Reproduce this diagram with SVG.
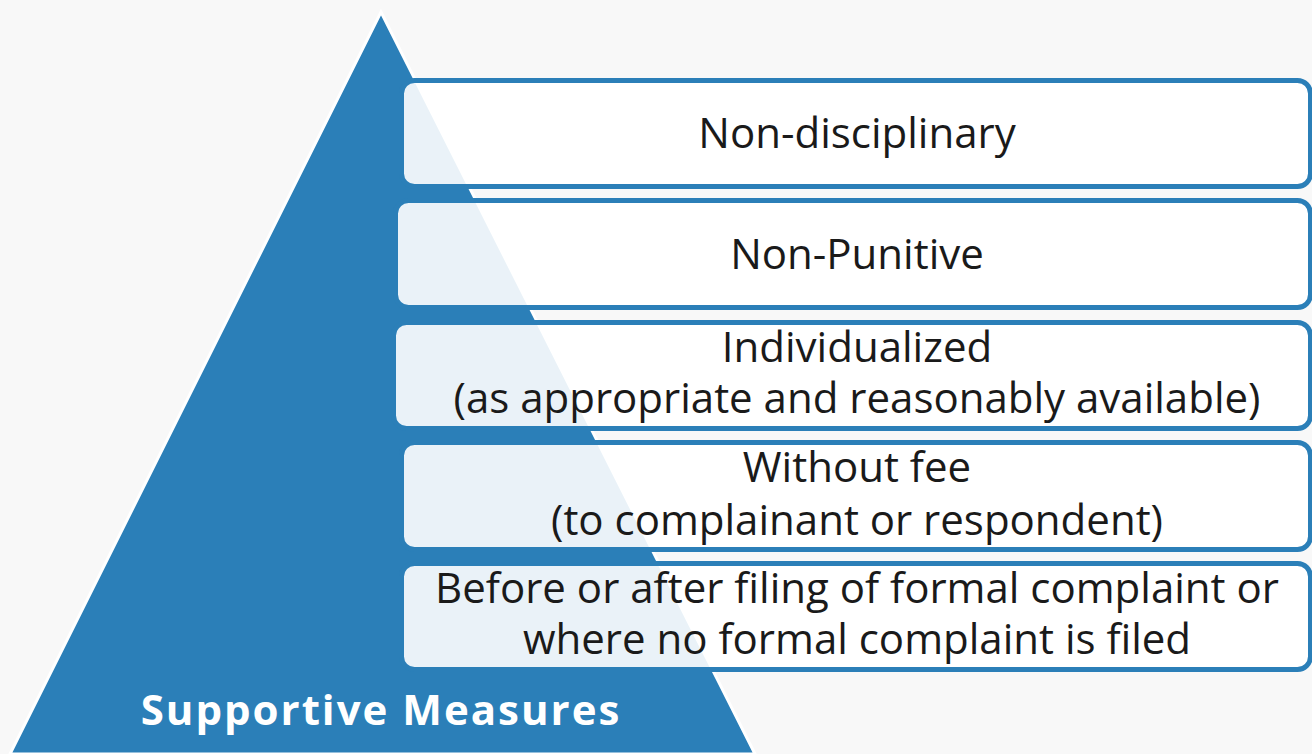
<svg xmlns="http://www.w3.org/2000/svg" width="1312" height="754" viewBox="0 0 1312 754">
  <style>
    .box { fill: #ffffff; fill-opacity: 0.9; stroke: #2b7fb8; stroke-width: 5; }
    .t { font-family: "Open Sans", "Liberation Sans", sans-serif; font-size: 42px; fill: #1a1a1a; text-anchor: middle; }
    .title { font-family: "Open Sans", "Liberation Sans", sans-serif; font-size: 42px; font-weight: bold; fill: #ffffff; text-anchor: middle; letter-spacing: 2px; }
  </style>
  <rect x="0" y="0" width="1312" height="754" fill="#f8f8f8"/>
  <g id="pyramid">
    <polygon points="381,12 10,754 755,754" fill="#2b7fb8" stroke="#ffffff" stroke-width="3" stroke-linejoin="miter"/>
  </g>
  <g id="connectors"></g>
  <g id="box1">
    <rect class="box" x="401.5" y="80.5" width="909" height="106" rx="13"/>
    <text class="t" x="857" y="148">Non-disciplinary</text>
  </g>
  <g id="box2">
    <rect class="box" x="395.5" y="200.5" width="915" height="107" rx="13"/>
    <text class="t" x="857" y="269">Non-Punitive</text>
  </g>
  <g id="box3">
    <rect class="box" x="393.5" y="322.5" width="917" height="106" rx="13"/>
    <text class="t" x="857" y="362">Individualized</text>
    <text class="t" x="857" y="413">(as appropriate and reasonably available)</text>
  </g>
  <g id="box4">
    <rect class="box" x="401.5" y="442.5" width="909" height="107" rx="13"/>
    <text class="t" x="857" y="482">Without fee</text>
    <text class="t" x="857" y="535">(to complainant or respondent)</text>
  </g>
  <g id="box5">
    <rect class="box" x="401.5" y="563.5" width="909" height="106" rx="13"/>
    <text class="t" x="857" y="603">Before or after filing of formal complaint or</text>
    <text class="t" x="857" y="654">where no formal complaint is filed</text>
  </g>
  <g id="title">
    <text class="title" x="381" y="725">Supportive Measures</text>
  </g>
</svg>
